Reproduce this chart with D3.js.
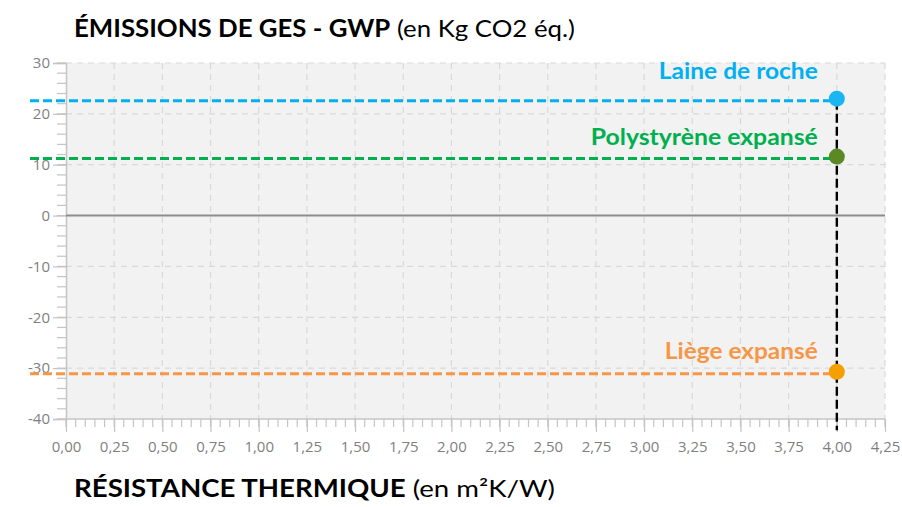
<!DOCTYPE html>
<html>
<head>
<meta charset="utf-8">
<script src="https://cdn.jsdelivr.net/npm/d3@7"></script>
<style>
body { margin:0; background:#fff; }
</style>
</head>
<body>
<div id="chart"></div>
<script>
// data
var materials = ["Laine de roche", "Polystyrène expansé", "Liège expansé"];
var resistance = [4.0, 4.0, 4.0];
var gwp = [22.6, 11.2, -31.1];
var lineColors = ["#00b0f0", "#00b050", "#f79646"];
var dotColors = ["#19b6f3", "#5b8a24", "#f5a000"];
var xTicks = [0,0.25,0.5,0.75,1,1.25,1.5,1.75,2,2.25,2.5,2.75,3,3.25,3.5,3.75,4,4.25];
var yTicks = [-40,-30,-20,-10,0,10,20,30];

var W = 902, H = 507;
var margin = {left:66, right:17, top:63, bottom:88};
var width = W - margin.left - margin.right;
var height = H - margin.top - margin.bottom;

var svg = d3.select("#chart").append("svg")
	.attr("width", W).attr("height", H);

var x = d3.scaleLinear().domain([0, 4.25]).range([0, width]);
var y = d3.scaleLinear().domain([-40, 30]).range([height, 0]);

var g = svg.append("g")
	.attr("transform", "translate(" + margin.left + "," + margin.top + ")");

// background
g.append("rect").attr("width", width).attr("height", height).attr("fill", "#f2f2f2");

// grid
g.selectAll(".vg").data(xTicks.slice(1)).enter().append("line")
	.attr("x1", d => x(d)).attr("x2", d => x(d))
	.attr("y1", 0).attr("y2", height)
	.attr("stroke", "#d9d9d9").attr("stroke-width", 1.2).attr("stroke-dasharray", "6,5");
g.selectAll(".hg").data(yTicks.filter(d => d != 0 && d != -40)).enter().append("line")
	.attr("x1", 0).attr("x2", width)
	.attr("y1", d => y(d)).attr("y2", d => y(d))
	.attr("stroke", "#d9d9d9").attr("stroke-width", 1.2).attr("stroke-dasharray", "6,5");

// minor ticks
var fmt = d3.format(".2f");
var xMinor = d3.range(0, 4.2501, 0.05);
g.selectAll(".xm").data(xMinor).enter().append("line")
	.attr("x1", d => x(d)).attr("x2", d => x(d))
	.attr("y1", height).attr("y2", height + 8)
	.attr("stroke", "#c4c4c4").attr("stroke-width", 1.2);
var yMinor = d3.range(-40, 30.01, 2);
g.selectAll(".ym").data(yMinor).enter().append("line")
	.attr("x1", -9).attr("x2", 0)
	.attr("y1", d => y(d)).attr("y2", d => y(d))
	.attr("stroke", "#c4c4c4").attr("stroke-width", 1.2);

// axes
var xAxis = d3.axisBottom(x).tickValues(xTicks).tickSize(13).tickPadding(9)
	.tickFormat(d => fmt(d).replace(".", ","));
var gx = g.append("g").attr("transform", "translate(0," + height + ")").call(xAxis);
var yAxis = d3.axisLeft(y).tickValues(yTicks).tickSize(13).tickPadding(3)
	.tickFormat(d => String(d));
var gy = g.append("g").call(yAxis);
[gx, gy].forEach(a => {
	a.select(".domain").attr("stroke", "#c4c4c4").attr("stroke-width", 1.5);
	a.selectAll(".tick line").attr("stroke", "#c4c4c4").attr("stroke-width", 1.2);
	a.selectAll("text").attr("fill", "#7f7f7f").attr("font-size", 15)
		.attr("font-family", "'Open Sans', sans-serif");
});
gx.select(".domain").remove();
g.append("line").attr("x1", 0).attr("x2", width).attr("y1", height).attr("y2", height)
	.attr("stroke", "#c4c4c4").attr("stroke-width", 1.5);

// zero line
g.append("line").attr("x1", 0).attr("x2", width).attr("y1", y(0)).attr("y2", y(0))
	.attr("stroke", "#8c8c8c").attr("stroke-width", 2);

// vertical dashed line at R
g.append("line")
	.attr("x1", x(resistance[0])).attr("x2", x(resistance[0]))
	.attr("y1", y(d3.max(gwp))).attr("y2", y(-42.2))
	.attr("stroke", "#000").attr("stroke-width", 2.4).attr("stroke-dasharray", "9,4");

// horizontal dashed lines
materials.forEach((m, i) => {
	g.append("line")
		.attr("x1", -36).attr("x2", x(resistance[i]))
		.attr("y1", y(gwp[i])).attr("y2", y(gwp[i]))
		.attr("stroke", lineColors[i]).attr("stroke-width", 3).attr("stroke-dasharray", "9,4");
});

// points
g.selectAll(".pt").data(materials).enter().append("circle")
	.attr("cx", (d, i) => x(resistance[i])).attr("cy", (d, i) => y(gwp[i]) - 2)
	.attr("r", 8).attr("fill", (d, i) => dotColors[i]);

// labels
var labelDy = [-22, -14, -15];
var labelLen = [159, 227, 153];
g.selectAll(".lbl").data(materials).enter().append("text")
	.attr("x", (d, i) => x(resistance[i]) - 19).attr("y", (d, i) => y(gwp[i]) + labelDy[i])
	.attr("text-anchor", "end")
	.attr("fill", (d, i) => lineColors[i])
	.attr("font-family", "Lato, sans-serif").attr("font-weight", "bold").attr("font-size", 22)
	.attr("textLength", (d, i) => labelLen[i]).attr("lengthAdjust", "spacingAndGlyphs")
	.text(d => d);

// titles
var t1 = svg.append("text").attr("x", 74).attr("y", 37)
	.attr("font-family", "Lato, sans-serif").attr("font-size", 24).attr("fill", "#000")
	.attr("textLength", 501).attr("lengthAdjust", "spacingAndGlyphs");
t1.append("tspan").attr("font-weight", "bold").text("ÉMISSIONS DE GES - GWP");
t1.append("tspan").text(" (en Kg CO2 éq.)");

var t2 = svg.append("text").attr("x", 74).attr("y", 497)
	.attr("font-family", "Lato, sans-serif").attr("font-size", 24).attr("fill", "#000")
	.attr("textLength", 481).attr("lengthAdjust", "spacingAndGlyphs");
t2.append("tspan").attr("font-weight", "bold").text("RÉSISTANCE THERMIQUE");
t2.append("tspan").text(" (en m²K/W)");
</script>
</body>
</html>
